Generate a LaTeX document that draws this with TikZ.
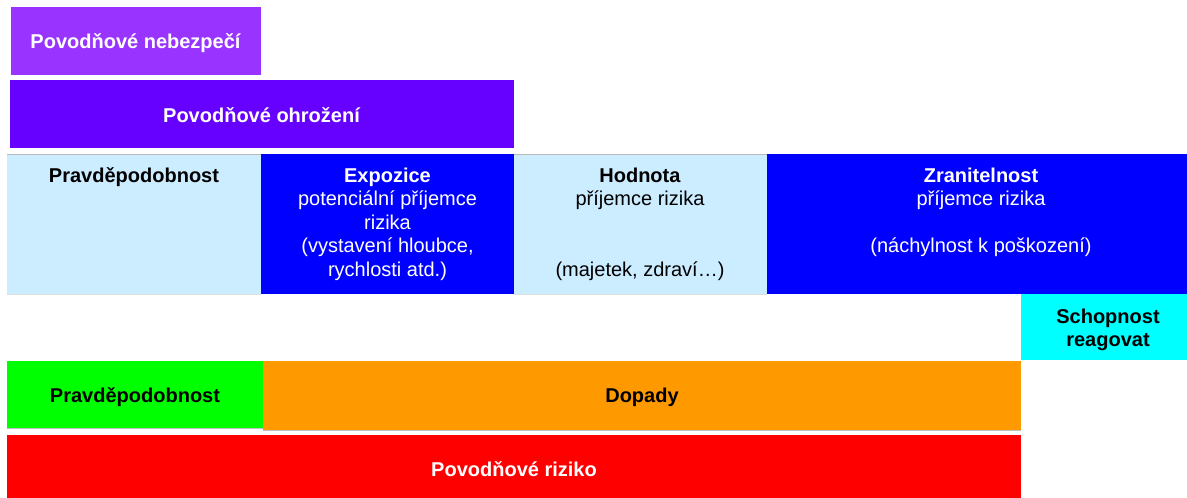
\documentclass[tikz,border=0pt]{standalone}
\usepackage{fontspec}
\setmainfont{Liberation Sans}
\definecolor{hazard}{HTML}{9933FF}
\definecolor{threat}{HTML}{6600FF}
\definecolor{paleblue}{HTML}{CCECFF}
\definecolor{deepblue}{HTML}{0000FF}
\definecolor{response}{HTML}{00FFFF}
\definecolor{likely}{HTML}{00FF00}
\definecolor{impact}{HTML}{FF9900}
\definecolor{risk}{HTML}{FF0000}
\newcommand\firstline{\rule{0pt}{16pt}}
\begin{document}
\begin{tikzpicture}[x=1pt,y=-1pt,
  txt/.style={inner sep=0pt,align=center,font=\fontsize{20}{23.5}\selectfont},
  head/.style={txt,anchor=base,font=\fontsize{20}{23.5}\selectfont\bfseries},
  cell/.style={txt,anchor=north},
  edge/.style={draw=gray!55,line width=0.8pt}]
\useasboundingbox (0,0) rectangle (1187,498);

% top: hazard and threat
\fill[hazard] (11,7) rectangle (261,75);
\fill[threat] (10,80) rectangle (514,148);
\node[head,white] (hazard) at (135.5,48) {Povodňové nebezpečí};
\node[head,white] (threat) at (261.5,122) {Povodňové ohrožení};

% middle row: components
\fill[paleblue] (7,154) rectangle (261,294);
\fill[deepblue] (261,154) rectangle (514,294);
\fill[paleblue] (514,154) rectangle (767,294);
\fill[deepblue] (767,154) rectangle (1187,294);
\draw[edge] (7,154) -- (261,154);
\draw[edge] (514,154) -- (767,154);
\draw[draw=gray!25,line width=0.6pt] (7,294) -- (261,294) (514,294) -- (767,294);

\node[cell] (prob) at (134,166) {\firstline\textbf{Pravděpodobnost}};
\node[cell,white] (expo) at (387.5,166)
  {\firstline\textbf{Expozice}\\potenciální příjemce\\rizika\\(vystavení hloubce,\\rychlosti atd.)};
\node[cell] (value) at (640,166)
  {\firstline\textbf{Hodnota}\\příjemce rizika\\[47pt](majetek, zdraví…)};
\node[cell,white] (vuln) at (981,166)
  {\firstline\textbf{Zranitelnost}\\příjemce rizika\\[23.5pt](náchylnost k poškození)};

% coping capacity
\fill[response] (1021,294) rectangle (1187,360);
\node[cell,font=\fontsize{20}{23.5}\selectfont\bfseries] (cope) at (1108,307)
  {\firstline Schopnost\\reagovat};

% bottom: probability, impacts, risk
\fill[likely] (7,361) rectangle (263,428);
\fill[impact] (263,361) rectangle (1021,430);
\draw[draw=gray!50,line width=0.6pt] (7,428.5) -- (263,428.5);
\draw[draw=gray!50,line width=0.6pt] (263,430.5) -- (1021,430.5);
\fill[risk] (7,435) rectangle (1021,498);
\node[head] (prob2) at (135,402) {Pravděpodobnost};
\node[head] (impacts) at (642,402) {Dopady};
\node[head,white] (risk) at (514,476) {Povodňové riziko};
\end{tikzpicture}
\end{document}
